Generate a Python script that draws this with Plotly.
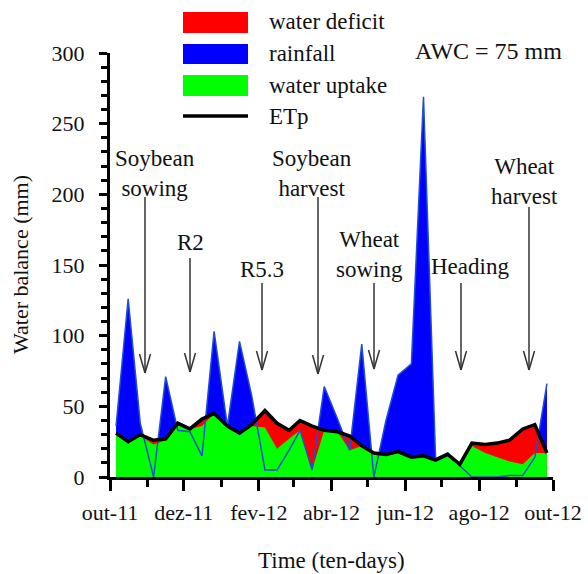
import plotly.graph_objects as go

# ---------------- data ----------------
months = ["2011-10", "2011-11", "2011-12", "2012-01", "2012-02", "2012-03",
          "2012-04", "2012-05", "2012-06", "2012-07", "2012-08", "2012-09"]
dekad_days = ["06", "16", "26"]
dekads = [f"{m}-{d}" for m in months for d in dekad_days]

rainfall = [36, 126, 38, 0, 71, 33, 32, 15, 103, 36, 96, 58,
            5, 5, 19, 33, 5, 64, 41, 19, 94, 0, 40, 72,
            80, 269, 13, 17, 8, 0, 0, 0, 1, 1, 14, 66]
etp = [31, 25, 30, 26, 27, 38, 34, 41, 45, 36, 31, 37,
       47, 38, 33, 40, 36, 33, 32, 29, 22, 17, 16, 18,
       14, 15, 12, 16, 9, 24, 23, 24, 26, 34, 37, 17]
uptake = [31, 25, 29, 23, 26, 38, 34, 36, 45, 35, 31, 36,
          35, 20, 27, 33, 5, 33, 32, 19, 22, 17, 16, 18,
          14, 15, 12, 16, 9, 22, 17, 14, 11, 9, 17, 17]

tick_vals = ["2011-10-01", "2011-12-01", "2012-02-01", "2012-04-01",
             "2012-06-01", "2012-08-01", "2012-10-01"]
tick_text = ["out-11", "dez-11", "fev-12", "abr-12", "jun-12", "ago-12", "out-12"]
minor_vals = [f"{m}-01" for m in months] + ["2012-10-01"]

legend_labels = ["water deficit", "rainfall", "water uptake", "ETp"]
legend_colors = ["#ff0000", "#0000ff", "#00ff00", "#000000"]

# ---------------- geometry helpers (pixel -> paper) ----------------
W, H = 588, 574
L, R, T, B = 110, 35, 53, 97
PW, PH = W - L - R, H - T - B


def px(x):
    return (x - L) / PW


def py(y):
    return (H - B - y) / PH


FONT = "Liberation Serif"
TXT = "#111"

fig = go.Figure()
fig.add_trace(go.Scatter(x=dekads, y=rainfall, mode="none", fill="tozeroy",
                         fillcolor="#0000ff", showlegend=False, hoverinfo="skip"))
fig.add_trace(go.Scatter(x=dekads, y=etp, mode="none", fill="tozeroy",
                         fillcolor="#ff0000", showlegend=False, hoverinfo="skip"))
fig.add_trace(go.Scatter(x=dekads, y=uptake, mode="none", fill="tozeroy",
                         fillcolor="#00ff00", showlegend=False, hoverinfo="skip"))
fig.add_trace(go.Scatter(x=dekads, y=rainfall, mode="lines",
                         line=dict(color="#1f4fd0", width=1.5), showlegend=False))
fig.add_trace(go.Scatter(x=dekads, y=etp, mode="lines",
                         line=dict(color="#000000", width=3.5), showlegend=False))

shapes = []
annotations = []

# legend (manual)
rects = [(12, 33), (44, 64), (75, 96)]
for (y0, y1), c in zip(rects, legend_colors[:3]):
    shapes.append(dict(type="rect", xref="paper", yref="paper",
                       x0=px(183), x1=px(248), y0=py(y1), y1=py(y0),
                       fillcolor=c, line=dict(width=0)))
shapes.append(dict(type="line", xref="paper", yref="paper",
                   x0=px(183), x1=px(248), y0=py(116), y1=py(116),
                   line=dict(color="black", width=3.5)))
for lab, yc in zip(legend_labels, [22, 53, 85, 116]):
    annotations.append(dict(text=lab, xref="paper", yref="paper", x=px(267), y=py(yc),
                            xanchor="left", yanchor="middle", showarrow=False,
                            font=dict(family=FONT, size=23, color=TXT)))
annotations.append(dict(text="AWC = 75 mm", xref="paper", yref="paper", x=px(413), y=py(51),
                        xanchor="left", yanchor="middle", showarrow=False,
                        font=dict(family=FONT, size=24, color=TXT)))

# stage labels and arrows
stages = [
    ("Soybean<br>sowing", 155, 173, 145, 197, 373),
    ("R2", 190, 242, 190, 258, 372),
    ("R5.3", 262, 269, 262, 283, 370),
    ("Soybean<br>harvest", 312, 173, 318, 197, 374),
    ("Wheat<br>sowing", 369, 254, 374, 283, 369),
    ("Heading", 470, 266, 461, 283, 370),
    ("Wheat<br>harvest", 524, 181, 529, 207, 370),
]
for text, tx, ty, ax, atop, atip in stages:
    annotations.append(dict(text=text, xref="paper", yref="paper", x=px(tx), y=py(ty),
                            xanchor="center", yanchor="middle", showarrow=False, align="center",
                            font=dict(family=FONT, size=23, color=TXT)))
    shapes.append(dict(type="line", xref="paper", yref="paper",
                       x0=px(ax), x1=px(ax), y0=py(atop), y1=py(atip),
                       line=dict(color="#333", width=1.5)))
    for s in (-1, 1):
        shapes.append(dict(type="line", xref="paper", yref="paper",
                           x0=px(ax + 5.5 * s), x1=px(ax), y0=py(atip - 19), y1=py(atip),
                           line=dict(color="#333", width=1.5)))

# axis titles
annotations.append(dict(text="Water balance (mm)", xref="paper", yref="paper",
                        x=px(20), y=0.5, textangle=-90, xanchor="center", yanchor="middle",
                        showarrow=False, font=dict(family=FONT, size=22, color=TXT)))
annotations.append(dict(text="Time (ten-days)", xref="paper", yref="paper",
                        x=0.5, y=py(560), xanchor="center", yanchor="middle",
                        showarrow=False, font=dict(family=FONT, size=23, color=TXT)))

fig.update_layout(
    width=W, height=H,
    margin=dict(l=L, r=R, t=T, b=B, pad=0, autoexpand=False),
    paper_bgcolor="white", plot_bgcolor="white",
    showlegend=False,
    shapes=shapes, annotations=annotations,
    xaxis=dict(type="date", range=["2011-10-01", "2012-10-01"], automargin=False,
               tickmode="array", tickvals=tick_vals, ticktext=tick_text,
               ticks="outside", ticklen=11, tickwidth=3, tickcolor="black",
               showline=True, linewidth=3, linecolor="black",
               showgrid=False, zeroline=False, ticklabelstandoff=3,
               tickfont=dict(family=FONT, size=22, color=TXT),
               minor=dict(tickmode="array", tickvals=minor_vals, ticks="outside",
                          ticklen=7, tickwidth=3, tickcolor="black", showgrid=False)),
    yaxis=dict(range=[0, 300], tickmode="array", tickvals=list(range(0, 301, 50)),
               automargin=False,
               ticks="outside", ticklen=8, tickwidth=2.5, tickcolor="black",
               showline=True, linewidth=3, linecolor="black",
               showgrid=False, zeroline=False,
               tickfont=dict(family=FONT, size=22, color=TXT),
               ticklabelstandoff=10,
               minor=dict(tickmode="linear", tick0=0, dtick=10, ticks="outside",
                          ticklen=6, tickwidth=2.5, tickcolor="black", showgrid=False)),
)

fig.write_html("out.html")
